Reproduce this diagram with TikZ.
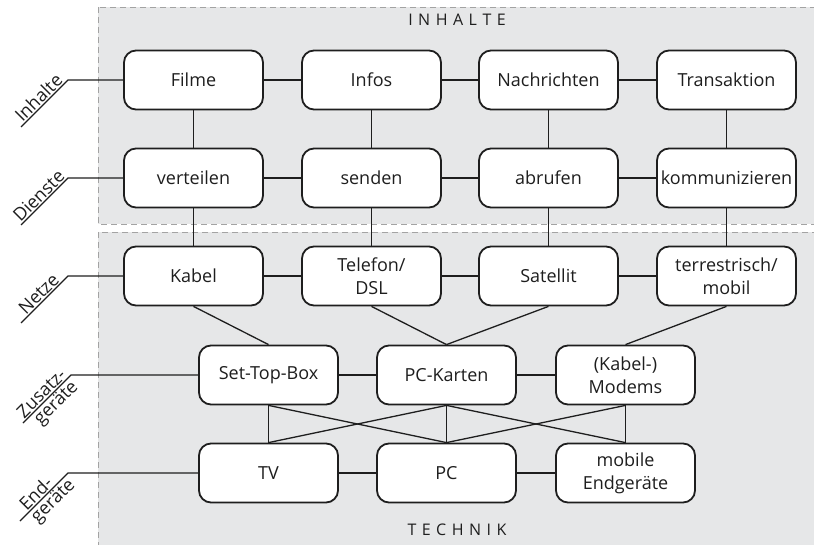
\documentclass[tikz,border=0pt]{standalone}
\usepackage{fontspec}
\setmainfont{Open Sans}
\usetikzlibrary{calc}
\definecolor{panelgray}{HTML}{E6E7E8}
\definecolor{dashgray}{HTML}{A3A3A3}
\definecolor{ink}{HTML}{1E1E1E}
\newcommand{\spaced}[1]{\def\spsep{}\spacedloop#1\relax}
\def\spacedloop#1{\ifx#1\relax\else\spsep#1\def\spsep{\hspace{5.5pt}}\expandafter\spacedloop\fi}
\begin{document}
\begin{tikzpicture}[x=1pt,y=-1pt,
  box/.style={draw=ink, line width=1.8pt, rounded corners=12pt, fill=white,
    minimum width=139pt, minimum height=59pt, align=center, inner sep=0pt,
    text=ink, font=\fontsize{18}{23}\selectfont},
  conn/.style={draw=ink, line width=1.3pt},
  lbl/.style={rotate=45, anchor=south, inner sep=1.5pt, text=ink, font=\fontsize{18}{20}\selectfont},
  lblb/.style={rotate=45, anchor=north, inner sep=1.5pt, text=ink, font=\fontsize{18}{20}\selectfont},
  panel/.style={fill=panelgray, draw=dashgray, line width=0.9pt, dash pattern=on 6pt off 4pt},
  title/.style={text=ink, font=\fontsize{16}{18}\selectfont}
]
\useasboundingbox (0,0) rectangle (814,545);
\clip (0,0) rectangle (814,545);
% panels
\path[panel] (98,7) rectangle (830,224);
\path[panel] (98,232) rectangle (830,560);
\node[title] (inh) at (457,20) {\spaced{INHALTE}};
\node[title] (tec) at (457,530) {\spaced{TECHNIK}};

% row 1
\node[box] (filme) at (193.5,80) {Filme};
\node[box] (infos) at (371.5,80) {Infos};
\node[box] (nach) at (548.5,80) {Nachrichten};
\node[box] (trans) at (726.5,80) {Transaktion};
% row 2
\node[box] (vert) at (193.5,178) {verteilen};
\node[box] (send) at (371.5,178) {senden};
\node[box] (abru) at (548.5,178) {abrufen};
\node[box] (komm) at (726.5,178) {kommunizieren};
% row 3
\node[box] (kabel) at (193.5,276) {Kabel};
\node[box] (tel) at (371.5,276) {Telefon/\\DSL};
\node[box] (sat) at (548.5,276) {Satellit};
\node[box] (terr) at (726.5,276) {terrestrisch/\\mobil};
% row 4
\node[box] (stb) at (268.5,375) {Set-Top-Box};
\node[box] (pck) at (446.5,375) {PC-Karten};
\node[box] (mod) at (625.5,375) {(Kabel-)\\Modems};
% row 5
\node[box] (tv) at (268.5,473) {TV};
\node[box] (pc) at (446.5,473) {PC};
\node[box] (mob) at (625.5,473) {mobile\\Endgeräte};

% horizontal connectors
\foreach \a/\b in {filme/infos,infos/nach,nach/trans,vert/send,send/abru,abru/komm,
  kabel/tel,tel/sat,sat/terr,stb/pck,pck/mod,tv/pc,pc/mob}
  \path[conn] (\a.east) -- (\b.west);
% vertical connectors
\foreach \a/\b in {filme/vert,infos/send,nach/abru,trans/komm,vert/kabel,send/tel,abru/sat,komm/terr,
  stb/tv,pck/pc,mod/mob}
  \path[conn] (\a.south) -- (\b.north);
% diagonal connectors
\foreach \a/\b in {kabel/stb,tel/pck,sat/pck,terr/mod,stb/pc,pck/tv,pck/mob,mod/pc}
  \path[conn] (\a.south) -- (\b.north);

% side labels
\coordinate (c1) at (68,80);  \coordinate (e1) at (21,127);
\coordinate (c2) at (68,178); \coordinate (e2) at (21,225);
\coordinate (c3) at (68,276); \coordinate (e3) at (21,323);
\coordinate (c4) at (71,375); \coordinate (e4) at (23,423);
\coordinate (c5) at (68,473); \coordinate (e5) at (20,521);
\path[conn] (filme.west) -- (c1) -- (e1);
\path[conn] (vert.west) -- (c2) -- (e2);
\path[conn] (kabel.west) -- (c3) -- (e3);
\path[conn] (stb.west) -- (c4) -- (e4);
\path[conn] (tv.west) -- (c5) -- (e5);
\node[lbl] (l1) at ($(e1)!0.5!(c1)$) {Inhalte};
\node[lbl] (l2) at ($(e2)!0.5!(c2)$) {Dienste};
\node[lbl] (l3) at ($(e3)!0.5!(c3)$) {Netze};
\node[lbl] (l4a) at ($(e4)!0.5!(c4)$) {Zusatz-};
\node[lblb] (l4b) at ($(e4)!0.55!(c4)$) {geräte};
\node[lbl] (l5a) at ($(e5)!0.45!(c5)$) {End-};
\node[lblb] (l5b) at ($(e5)!0.55!(c5)$) {geräte};
\end{tikzpicture}
\end{document}
